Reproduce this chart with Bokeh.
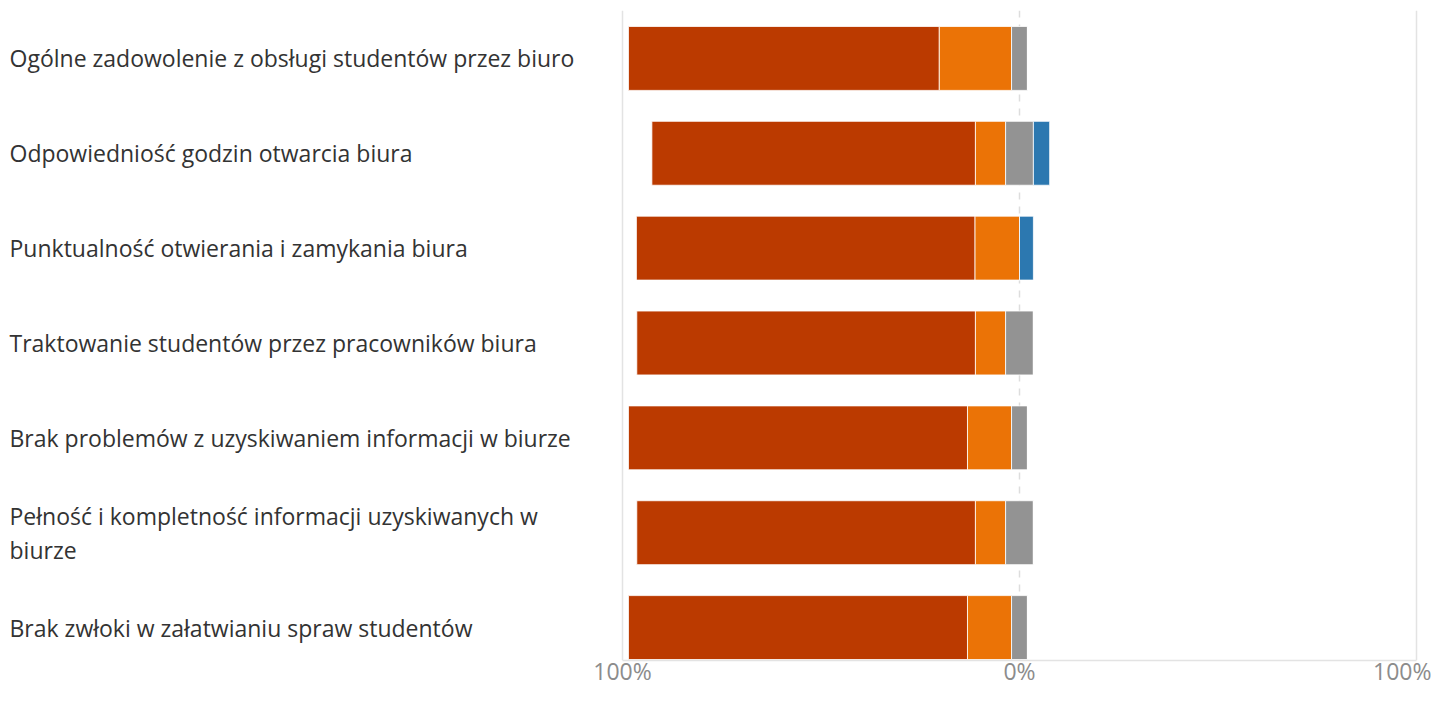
from bokeh.plotting import figure
from bokeh.models import Range1d, FixedTicker, Grid, ColumnDataSource
from bokeh.core.properties import value
from bokeh.embed import file_html
from bokeh.resources import INLINE

categories = [
    "Ogólne zadowolenie z obsługi studentów przez biuro",
    "Odpowiedniość godzin otwarcia biura",
    "Punktualność otwierania i zamykania biura",
    "Traktowanie studentów przez pracowników biura",
    "Brak problemów z uzyskiwaniem informacji w biurze",
    "Pełność i kompletność informacji uzyskiwanych w\nbiurze",
    "Brak zwłoki w załatwianiu spraw studentów",
]
dark = [78.3, 81.5, 85.3, 85.3, 85.4, 85.3, 85.4]
orange = [18.2, 7.6, 11.2, 7.6, 11.1, 7.6, 11.1]
gray = [4.0, 7.0, 0.0, 7.0, 4.0, 7.0, 4.0]
blue = [0.0, 4.1, 3.5, 0.0, 0.0, 0.0, 0.0]
tick_values = [-100, 0, 100]
tick_labels = ["100%", "0%", "100%"]

C_DARK = "#bb3a00"
C_ORANGE = "#eb7306"
C_GRAY = "#939393"
C_BLUE = "#2c78b0"

ys = list(range(len(categories)))
half = [g / 2 for g in gray]
d_left = [-(d + o + h) for d, o, h in zip(dark, orange, half)]
d_right = [-(o + h) for o, h in zip(orange, half)]
o_right = [-h for h in half]
g_right = half
b_right = [h + b for h, b in zip(half, blue)]

W, H = 1431, 689
frame_top = 10
frame_bottom = 661     # axis takes the rest
row0 = 58.0
step = 95.0
y_top = -(row0 - frame_top) / step
y_bot = y_top + (frame_bottom - frame_top) / step

px_per = 3.97
zero_px = 1019
x0 = -zero_px / px_per
x1 = (W - zero_px) / px_per

p = figure(width=W, height=H, output_backend="svg", toolbar_location=None,
           x_range=Range1d(x0, x1), y_range=Range1d(y_bot, y_top),
           min_border_left=0, min_border_right=0, min_border_top=frame_top,
           min_border_bottom=0)
p.outline_line_color = None
p.background_fill_color = "white"
p.border_fill_color = "white"
p.yaxis.visible = False
p.ygrid.visible = False

p.xgrid.ticker = FixedTicker(ticks=[tick_values[0], tick_values[2]])
p.xgrid.grid_line_color = "#e3e3e3"
p.xgrid.grid_line_width = 1.5
zero_grid = Grid(dimension=0, ticker=FixedTicker(ticks=[tick_values[1]]),
                 grid_line_color="#dddddd", grid_line_width=1.5, grid_line_dash="7 7")
p.add_layout(zero_grid)

ax = p.xaxis[0]
ax.ticker = FixedTicker(ticks=tick_values)
ax.major_label_overrides = {v: l for v, l in zip(tick_values, tick_labels)}
ax.bounds = (tick_values[0], tick_values[2])
ax.axis_line_color = "#e3e3e3"
ax.axis_line_width = 1.5
ax.major_tick_line_color = None
ax.minor_tick_line_color = None
ax.major_tick_out = 0
ax.major_tick_in = 0
ax.minor_tick_out = 0
ax.minor_tick_in = 0
ax.major_label_standoff = -6
ax.major_label_text_font = "Open Sans"
ax.major_label_text_font_size = "23px"
ax.major_label_text_color = "#8c8c8c"

src = ColumnDataSource(dict(y=ys, dl=d_left, dr=d_right, orr=o_right, gr=g_right, br=b_right))
bh = 64 / step
p.hbar(y="y", left="dl", right="dr", height=bh, source=src, fill_color=C_DARK,
       line_color="white", line_width=0.8)
p.hbar(y="y", left="dr", right="orr", height=bh, source=src, fill_color=C_ORANGE,
       line_color="white", line_width=0.8)
p.hbar(y="y", left="orr", right="gr", height=bh, source=src, fill_color=C_GRAY,
       line_color="white", line_width=0.8)
p.hbar(y="y", left="gr", right="br", height=bh, source=src, fill_color=C_BLUE,
       line_color="white", line_width=0.8)

lsrc = ColumnDataSource(dict(x=[x0 + 9 / px_per] * len(categories), y=ys, t=categories))
p.text(x="x", y="y", text="t", source=lsrc, text_align="left", text_baseline="middle",
       text_font=value("Open Sans"), text_font_size="23px", text_color="#333333",
       text_line_height=1.06)

open("out.html", "w").write(file_html(p, INLINE))
